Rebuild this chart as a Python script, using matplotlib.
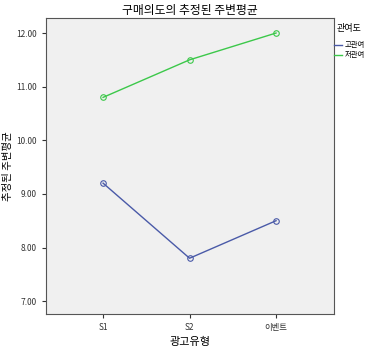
import matplotlib

matplotlib.use("Agg")
import matplotlib.pyplot as plt

plt.rcParams["font.family"] = ["Noto Sans CJK KR", "DejaVu Sans"]

categories = ["S1", "S2", "이벤트"]
high_involvement = [9.2, 7.8, 8.5]
low_involvement = [10.8, 11.5, 12.0]
y_ticks = [7.0, 8.0, 9.0, 10.0, 11.0, 12.0]

fig = plt.figure(figsize=(3.78, 3.51), dpi=100)
ax = fig.add_axes([0.1217, 0.1054, 0.7619, 0.8433])
ax.set_facecolor("#f0f0f0")

x = range(len(categories))
ax.plot(x, high_involvement, color="#4a5aa8", lw=1, marker="o", ms=4,
        mfc="none", mec="#4a5aa8", mew=0.8, label="고관여")
ax.plot(x, low_involvement, color="#3cc84a", lw=1, marker="o", ms=4,
        mfc="none", mec="#3cc84a", mew=0.8, label="저관여")

ax.set_xlim(-0.66, 2.67)
ax.set_ylim(6.76, 12.28)
ax.set_xticks(list(x))
ax.set_xticklabels(categories)
ax.set_yticks(y_ticks)
ax.set_yticklabels([f"{v:.2f}" for v in y_ticks])
ax.tick_params(labelsize=6, length=3, width=0.8, colors="#333333")
for s in ax.spines.values():
    s.set_color("#555555")
    s.set_linewidth(0.8)

ax.set_title("구매의도의 추정된 주변평균", fontsize=8.5, pad=3)
ax.set_xlabel("광고유형", fontsize=8)
ax.xaxis.set_label_coords(0.5, -0.095)
ax.xaxis.label.set_va("center")
ax.set_ylabel("추정된 주변평균", fontsize=7.5)
ax.yaxis.set_label_coords(-0.132, 0.5)
ax.yaxis.label.set_va("center")

leg = ax.legend(loc="upper left", bbox_to_anchor=(0.995, 0.985), frameon=False,
                title="관여도", fontsize=5.3, title_fontsize=6.5,
                handlelength=1.1, handletextpad=0.3, borderaxespad=0,
                borderpad=0.2, labelspacing=0.3, alignment="center")
leg._legend_box.sep = 6
for h in leg.legend_handles:
    h.set_marker("")

fig.savefig("out.png", dpi=100)
